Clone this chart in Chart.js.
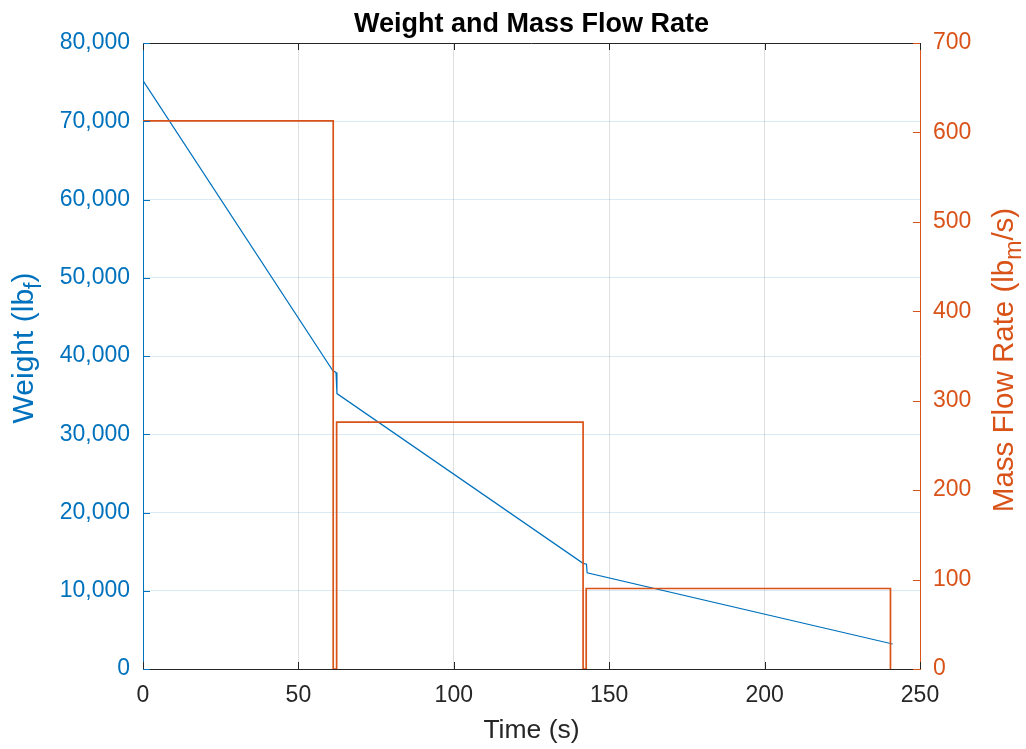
<!DOCTYPE html>
<html>
<head>
<meta charset="utf-8">
<script src="https://cdn.jsdelivr.net/npm/chart.js@4.4.1/dist/chart.umd.min.js"></script>
<style>
  body { margin: 0; background: #fff; }
  #wrap { width: 1026px; height: 749px; }
</style>
</head>
<body>
<div id="wrap"><canvas id="flowChart" width="1026" height="749"></canvas></div>
<script>
// weight curve (left axis)
const weightTime = [0, 61.1, 62.1, 62.4, 141.6, 142.7, 142.9, 241.2];
const weightLbf = [75200, 38100, 37900, 35200, 13500, 13400, 12300, 3200];

// mass flow rate steps (right axis), value holds until the next time
const flowTime = [0, 61.2, 62.3, 141.6, 142.6, 240.5];
const flowRate = [613, 0, 276, 0, 90, 0];

// axis ticks
const timeTicks = [0, 50, 100, 150, 200, 250];
const weightTicks = [0, 10000, 20000, 30000, 40000, 50000, 60000, 70000, 80000];
const flowTicks = [0, 100, 200, 300, 400, 500, 600, 700];

const BLUE = '#0072BD';
const ORANGE = '#D95319';
const DARK = '#262626';
const FONT = '"Liberation Sans", Arial, Helvetica, sans-serif';

const withCommas = v => String(v).replace(/\B(?=(\d{3})+(?!\d))/g, ',');

// draw text made of normal and subscript parts, centred on (x, baseline y)
function drawRich(ctx, parts, x, y, size, color, rotate) {
    ctx.save();
    ctx.translate(x, y);
    if (rotate) ctx.rotate(-Math.PI / 2);
    ctx.fillStyle = color;
    ctx.textBaseline = 'alphabetic';
    ctx.textAlign = 'left';
    const fontFor = p => (p.sub ? Math.round(size * 0.78) : size) + 'px ' + FONT;
    let total = 0;
    parts.forEach(p => { ctx.font = fontFor(p); total += ctx.measureText(p.text).width; });
    let cx = -total / 2;
    parts.forEach(p => {
        ctx.font = fontFor(p);
        ctx.fillText(p.text, cx, p.sub ? size * 0.27 : 0);
        cx += ctx.measureText(p.text).width;
    });
    ctx.restore();
}

const decorPlugin = {
    id: 'decor',
    afterDraw(chart) {
        const { ctx, chartArea: a, scales } = chart;
        const tick = 7;
        const seg = (x1, y1, x2, y2, c) => {
            ctx.strokeStyle = c;
            ctx.beginPath(); ctx.moveTo(x1, y1); ctx.lineTo(x2, y2); ctx.stroke();
        };
        ctx.save();
        ctx.lineWidth = 1;
        // top box edge
        seg(a.left, Math.round(a.top) + 0.5, a.right, Math.round(a.top) + 0.5, DARK);

        // inward ticks
        timeTicks.forEach(t => {
            const px = Math.round(scales.x.getPixelForValue(t)) + 0.5;
            seg(px, a.bottom, px, a.bottom - tick, DARK);
            seg(px, a.top, px, a.top + tick, DARK);
        });
        weightTicks.forEach(v => {
            const py = Math.round(scales.y.getPixelForValue(v)) + 0.5;
            seg(a.left, py, a.left + tick, py, BLUE);
        });
        flowTicks.forEach(v => {
            const py = Math.round(scales.y1.getPixelForValue(v)) + 0.5;
            seg(a.right, py, a.right - tick, py, ORANGE);
        });
        ctx.restore();

        // title
        ctx.save();
        ctx.font = 'bold 27px ' + FONT;
        ctx.fillStyle = '#000';
        ctx.textAlign = 'center';
        ctx.textBaseline = 'alphabetic';
        ctx.fillText('Weight and Mass Flow Rate', (a.left + a.right) / 2, 32);
        ctx.restore();

        // axis titles
        drawRich(ctx, [{ text: 'Time (s)' }], (a.left + a.right) / 2, 738, 26.5, DARK, false);
        drawRich(ctx, [{ text: 'Weight (lb' }, { text: 'f', sub: true }, { text: ')' }],
            33, 348, 30, BLUE, true);
        drawRich(ctx, [{ text: 'Mass Flow Rate (lb' }, { text: 'm', sub: true }, { text: '/s)' }],
            1013, 360, 29.5, ORANGE, true);
    }
};

const ctx = document.getElementById('flowChart').getContext('2d');

new Chart(ctx, {
    type: 'line',
    data: {
        datasets: [
            {
                data: weightTime.map((t, i) => ({ x: t, y: weightLbf[i] })),
                yAxisID: 'y',
                borderColor: BLUE,
                borderWidth: 1.2,
                pointRadius: 0,
                tension: 0,
                order: 2
            },
            {
                data: flowTime.map((t, i) => ({ x: t, y: flowRate[i] })),
                yAxisID: 'y1',
                borderColor: ORANGE,
                borderWidth: 1.7,
                pointRadius: 0,
                stepped: 'before',
                order: 1
            }
        ]
    },
    options: {
        responsive: false,
        animation: false,
        layout: { padding: { top: 43, left: 0, right: 0, bottom: 0 } },
        plugins: {
            legend: { display: false },
            tooltip: { enabled: false },
            title: { display: false }
        },
        scales: {
            x: {
                type: 'linear',
                min: 0, max: 250,
                afterBuildTicks: s => { s.ticks = timeTicks.map(v => ({ value: v })); },
                afterFit: s => { s.height = 80; },
                grid: { color: 'rgba(38,38,38,0.15)', drawTicks: false },
                border: { color: DARK, width: 1 },
                ticks: { color: DARK, padding: 13, font: { family: FONT, size: 23 } }
            },
            y: {
                position: 'left',
                min: 0, max: 80000,
                afterBuildTicks: s => { s.ticks = weightTicks.map(v => ({ value: v })); },
                afterFit: s => { s.width = 143; },
                grid: { color: 'rgba(0,114,189,0.15)', drawTicks: false },
                border: { color: BLUE, width: 1 },
                ticks: {
                    color: BLUE, padding: 13,
                    font: { family: FONT, size: 23 },
                    callback: v => withCommas(v)
                }
            },
            y1: {
                position: 'right',
                min: 0, max: 700,
                afterBuildTicks: s => { s.ticks = flowTicks.map(v => ({ value: v })); },
                afterFit: s => { s.width = 106; },
                grid: { drawOnChartArea: false, drawTicks: false },
                border: { color: ORANGE, width: 1 },
                ticks: { color: ORANGE, padding: 13, font: { family: FONT, size: 23 } }
            }
        }
    },
    plugins: [decorPlugin]
});
</script>
</body>
</html>
